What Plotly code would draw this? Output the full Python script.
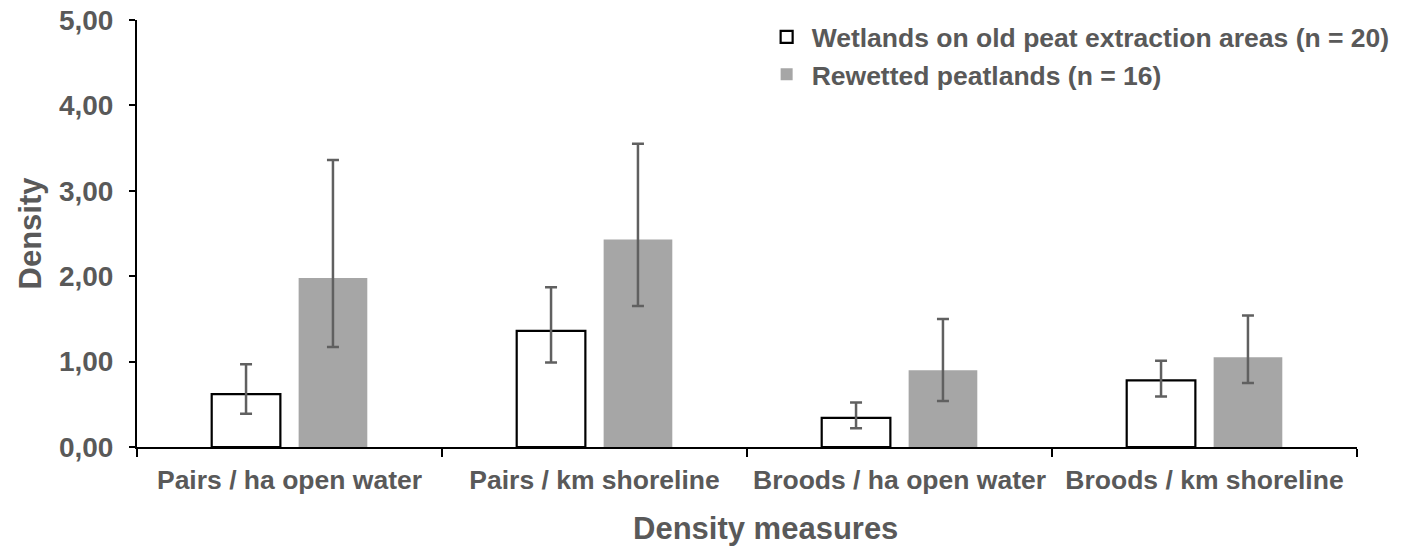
import plotly.graph_objects as go

categories = ["Pairs / ha open water", "Pairs / km shoreline", "Broods / ha open water", "Broods / km shoreline"]

wetlands_name = "Wetlands on old peat extraction areas (n = 20)"
wetlands_mean = [0.62, 1.36, 0.34, 0.78]
wetlands_err_plus = [0.35, 0.51, 0.18, 0.23]
wetlands_err_minus = [0.23, 0.37, 0.12, 0.19]

rewetted_name = "Rewetted peatlands (n = 16)"
rewetted_mean = [1.98, 2.43, 0.90, 1.05]
rewetted_err_plus = [1.38, 1.12, 0.60, 0.49]
rewetted_err_minus = [0.81, 0.78, 0.36, 0.30]

y_ticks = [0, 1, 2, 3, 4, 5]

TXT = "#595959"
FONT = "Liberation Sans, Arial, sans-serif"
ERR = "#606060"

fig = go.Figure()
fig.add_trace(go.Bar(
    x=categories, y=wetlands_mean, name=wetlands_name,
    marker=dict(color="white", line=dict(color="black", width=2.2)),
    error_y=dict(type="data", symmetric=False, array=wetlands_err_plus,
                 arrayminus=wetlands_err_minus, color=ERR, thickness=2.5, width=6),
))
fig.add_trace(go.Bar(
    x=categories, y=rewetted_mean, name=rewetted_name,
    marker=dict(color="#A6A6A6", line=dict(color="#A6A6A6", width=0)),
    error_y=dict(type="data", symmetric=False, array=rewetted_err_plus,
                 arrayminus=rewetted_err_minus, color=ERR, thickness=2.5, width=6),
))

fig.update_layout(
    width=1402, height=548,
    margin=dict(l=137, r=45, t=20, b=101, autoexpand=False),
    paper_bgcolor="white", plot_bgcolor="white",
    separators=", ",
    barmode="group", bargap=0.43, bargroupgap=0.21,
    font=dict(family=FONT, color=TXT, size=26, weight="bold"),
    showlegend=True,
    legend=dict(x=0.512, xanchor="left", y=1.016, yanchor="top",
                itemwidth=40,
                font=dict(family=FONT, size=26.5, color=TXT, weight="bold"),
                bgcolor="rgba(0,0,0,0)"),
    annotations=[dict(text="Density measures", xref="paper", yref="paper",
                      x=0.5148, y=-0.19, xanchor="center", yanchor="middle",
                      showarrow=False,
                      font=dict(family=FONT, size=31, color=TXT, weight="bold"))],
)
fig.update_xaxes(
    automargin=False,
    showline=True, linecolor="black", linewidth=2,
    ticks="outside", tickson="boundaries", ticklen=8, tickwidth=2, tickcolor="black",
    ticklabelstandoff=8,
    tickfont=dict(family=FONT, size=26.5, color=TXT, weight="bold"),
    showgrid=False, zeroline=False,
)
fig.update_yaxes(
    automargin=False,
    range=[0, 5], tickvals=y_ticks, tickformat=".2f",
    showline=True, linecolor="black", linewidth=2,
    ticks="outside", ticklen=6, tickwidth=2, tickcolor="black",
    ticklabelstandoff=10,
    tickfont=dict(family=FONT, size=28, color=TXT, weight="bold"),
    title=dict(text="Density", font=dict(family=FONT, size=31, color=TXT, weight="bold"), standoff=8),
    showgrid=False, zeroline=False,
)

fig.write_html("out.html", config={"displayModeBar": False},
               post_script="document.body.style.margin='0';")
